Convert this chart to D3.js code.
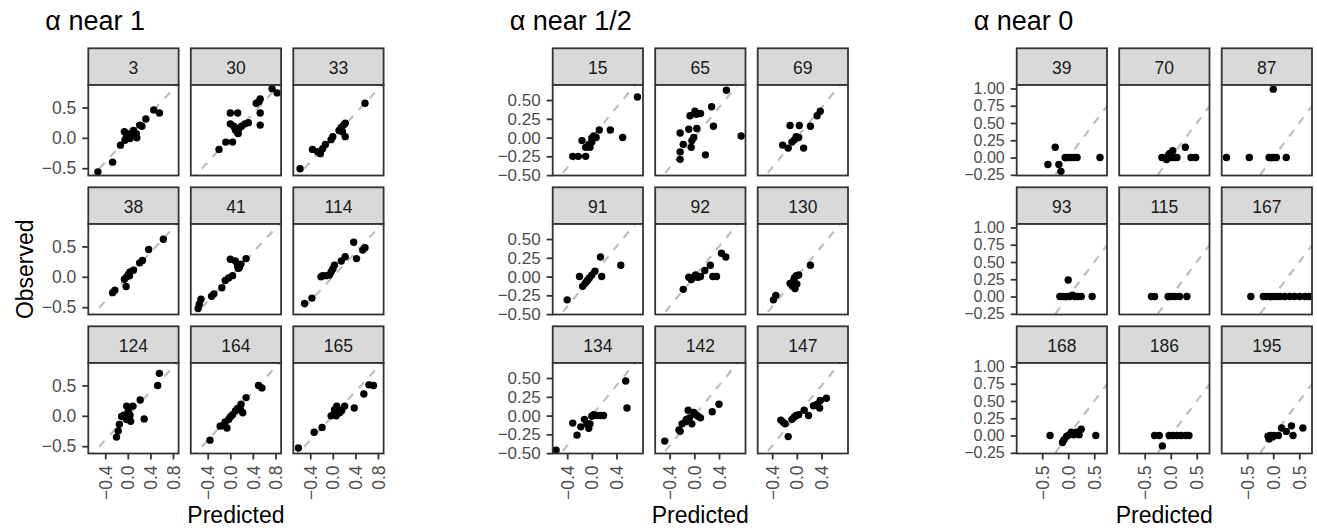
<!DOCTYPE html>
<html>
<head>
<meta charset="utf-8">
<script src="https://cdn.jsdelivr.net/npm/d3@7"></script>
<style>
  body { margin: 0; background: #fff; }
  text { font-family: "Liberation Sans", Arial, sans-serif; }
</style>
</head>
<body>
<svg id="chart" width="1317" height="532"></svg>
<script>
// ---- data: [predicted, observed] per facet ----
// alpha near 1
const p3   = [[-0.53,-0.56],[-0.27,-0.40],[-0.13,-0.12],[-0.06,0.10],[-0.03,0.0],[0.01,0.06],[0.07,0.08],[0.10,0.12],[0.16,0.0],[0.15,0.07],[0.21,0.21],[0.25,0.19],[0.32,0.31],[0.46,0.46],[0.56,0.41],[-0.05,-0.04],[0.04,-0.01]];
const p30  = [[-0.20,-0.19],[-0.08,-0.07],[0.04,-0.07],[0.0,0.41],[0.13,0.41],[0.0,0.23],[0.06,0.19],[0.09,0.13],[0.13,0.08],[0.16,0.16],[0.20,0.19],[0.26,0.23],[0.32,0.25],[0.46,0.57],[0.51,0.60],[0.53,0.64],[0.53,0.41],[0.53,0.21],[0.74,0.81],[0.83,0.74],[0.14,0.07]];
const p33  = [[-0.58,-0.51],[-0.36,-0.19],[-0.27,-0.23],[-0.22,-0.26],[-0.18,-0.18],[-0.13,-0.11],[-0.03,-0.03],[0.0,0.02],[0.11,0.12],[0.15,0.17],[0.19,0.21],[0.22,0.24],[0.22,0.02],[0.17,0.10],[0.57,0.57]];
const p38  = [[-0.27,-0.26],[-0.23,-0.22],[-0.03,-0.16],[-0.06,-0.04],[-0.02,0.0],[0.01,0.04],[0.04,0.08],[0.10,0.11],[0.21,0.23],[0.26,0.27],[0.37,0.45],[0.63,0.62],[0.03,0.02]];
const p41  = [[-0.57,-0.52],[-0.55,-0.45],[-0.52,-0.37],[-0.33,-0.32],[-0.29,-0.28],[-0.15,-0.18],[-0.09,-0.06],[-0.03,-0.02],[0.04,0.02],[0.0,0.29],[0.09,0.26],[0.13,0.18],[0.16,0.15],[0.19,0.21],[0.28,0.30],[0.14,0.14]];
const p114 = [[-0.50,-0.44],[-0.37,-0.35],[-0.21,0.0],[-0.18,0.02],[-0.12,0.02],[-0.06,0.03],[-0.03,0.08],[0.0,0.13],[0.03,0.19],[0.15,0.26],[0.22,0.33],[0.42,0.30],[0.37,0.57],[0.53,0.44],[0.57,0.48]];
const p124 = [[-0.20,-0.35],[-0.17,-0.25],[-0.15,-0.14],[-0.11,-0.01],[-0.07,0.01],[-0.02,0.16],[0.01,0.08],[0.04,0.01],[0.05,-0.09],[0.09,0.16],[0.22,0.26],[0.29,-0.05],[0.53,0.50],[0.56,0.70],[0.01,-0.03],[-0.02,-0.06]];
const p164 = [[-0.36,-0.40],[-0.18,-0.17],[-0.13,-0.16],[-0.06,-0.20],[-0.09,-0.10],[-0.03,-0.06],[0.0,-0.02],[0.04,0.02],[0.09,0.08],[0.13,0.12],[0.19,0.19],[0.22,0.05],[0.28,0.30],[0.50,0.50],[0.56,0.46],[0.18,0.10]];
const p165 = [[-0.61,-0.53],[-0.33,-0.27],[-0.19,-0.19],[-0.03,0.0],[0.01,0.02],[0.03,0.10],[0.07,0.16],[0.12,0.05],[0.16,0.09],[0.21,0.16],[0.38,0.13],[0.55,0.36],[0.64,0.51],[0.72,0.50],[0.06,0.0]];
// alpha near 1/2
const p15  = [[-0.31,-0.25],[-0.22,-0.25],[-0.10,-0.25],[-0.16,-0.04],[-0.10,-0.13],[-0.03,-0.13],[-0.05,-0.09],[0.0,-0.01],[0.03,0.02],[0.07,0.0],[0.12,0.10],[0.30,0.10],[0.50,0.0],[0.74,0.54],[0.0,-0.06]];
const p65  = [[-0.23,-0.29],[-0.23,-0.19],[-0.23,0.06],[-0.18,-0.09],[-0.09,0.11],[-0.05,-0.13],[-0.07,0.29],[0.01,0.35],[0.03,0.31],[0.10,0.32],[0.04,0.12],[-0.01,0.0],[-0.04,-0.04],[0.18,-0.23],[0.28,0.41],[0.31,0.15],[0.52,0.63],[0.76,0.02]];
const p69  = [[-0.23,-0.10],[-0.14,-0.14],[-0.11,0.16],[-0.08,-0.06],[-0.04,-0.03],[-0.01,0.01],[0.03,0.0],[0.04,0.16],[0.11,-0.14],[0.22,0.15],[0.33,0.29],[0.38,0.35]];
const p91  = [[-0.40,-0.31],[-0.20,0.0],[-0.15,-0.13],[-0.11,-0.09],[-0.07,-0.05],[-0.04,-0.02],[0.0,0.02],[0.05,0.07],[0.14,0.26],[0.16,0.0],[0.47,0.15],[-0.08,-0.06]];
const p92  = [[-0.18,-0.17],[-0.09,-0.01],[-0.05,-0.04],[-0.01,-0.01],[0.06,-0.01],[0.10,0.0],[0.17,0.08],[0.26,0.15],[0.30,0.0],[0.36,0.0],[0.44,0.31],[0.51,0.26],[0.02,0.02]];
const p130 = [[-0.38,-0.31],[-0.34,-0.25],[-0.11,-0.09],[-0.07,-0.13],[-0.03,-0.16],[0.0,-0.10],[-0.04,-0.02],[-0.01,0.01],[0.03,0.02],[0.22,0.15],[-0.05,-0.05]];
const p134 = [[-0.58,-0.46],[-0.31,-0.10],[-0.24,-0.26],[-0.18,-0.15],[-0.12,-0.05],[-0.08,-0.11],[-0.05,-0.17],[-0.03,-0.11],[0.0,-0.01],[0.03,0.01],[0.08,0.0],[0.14,0.0],[0.19,0.0],[0.55,0.46],[0.57,0.10]];
const p142 = [[-0.48,-0.34],[-0.25,-0.19],[-0.23,-0.21],[-0.20,-0.11],[-0.14,-0.08],[-0.10,0.07],[-0.08,-0.03],[-0.04,-0.11],[-0.01,0.04],[0.02,0.01],[0.06,-0.01],[0.10,-0.03],[0.29,0.05],[0.40,0.15],[-0.13,-0.05]];
const p147 = [[-0.26,-0.06],[-0.22,-0.09],[-0.19,-0.11],[-0.14,-0.28],[-0.08,-0.05],[-0.04,-0.02],[-0.01,0.0],[0.03,0.01],[0.12,0.07],[0.19,0.0],[0.27,0.13],[0.33,0.15],[0.38,0.20],[0.37,0.10],[0.48,0.23]];
// alpha near 0
const p39  = [[-0.39,-0.10],[-0.25,0.15],[-0.18,-0.10],[-0.14,-0.20],[-0.06,0.0],[0.0,0.0],[0.06,0.0],[0.11,0.0],[0.17,0.0],[0.61,0.0]];
const p70  = [[-0.17,0.0],[-0.08,-0.03],[-0.05,0.03],[-0.02,0.06],[0.01,0.0],[0.04,0.10],[0.08,0.0],[0.12,0.0],[0.28,0.15],[0.39,0.0],[0.48,0.0]];
const p87  = [[-0.90,0.0],[-0.46,0.0],[-0.08,0.0],[-0.03,0.0],[0.01,0.0],[0.06,0.0],[0.0,0.99],[0.25,0.0]];
const p93  = [[0.0,0.24],[-0.16,0.0],[-0.10,0.0],[-0.03,0.0],[0.03,0.0],[0.08,0.02],[0.13,0.0],[0.19,0.0],[0.25,0.0],[0.46,0.0]];
const p115 = [[-0.37,0.0],[-0.31,0.0],[-0.05,0.0],[0.01,0.0],[0.08,0.0],[0.17,0.0],[0.31,0.0]];
const p167 = [[-0.43,0.0],[-0.19,0.0],[-0.13,0.0],[-0.06,0.0],[0.0,0.0],[0.06,0.0],[0.13,0.0],[0.22,0.0],[0.32,0.0],[0.41,0.0],[0.51,0.0],[0.61,0.0],[0.69,0.0]];
const p168 = [[-0.35,0.0],[-0.11,-0.10],[-0.08,-0.06],[-0.03,-0.01],[0.02,0.01],[0.06,0.05],[0.11,0.01],[0.16,0.05],[0.21,0.01],[0.25,0.09],[0.53,0.0]];
const p186 = [[-0.31,0.0],[-0.22,0.0],[-0.16,-0.15],[-0.03,0.0],[0.04,0.0],[0.12,0.0],[0.20,0.0],[0.29,0.0],[0.35,0.0]];
const p195 = [[-0.10,-0.01],[-0.08,-0.05],[-0.05,0.0],[0.01,0.0],[0.10,0.0],[0.16,0.11],[0.25,0.06],[0.35,0.14],[0.38,0.0],[0.57,0.11],[-0.01,-0.02]];

const groupTitles = ["\u03b1 near 1", "\u03b1 near 1/2", "\u03b1 near 0"];
const near1Ids    = ["3","30","33","38","41","114","124","164","165"];
const nearHalfIds = ["15","65","69","91","92","130","134","142","147"];
const near0Ids    = ["39","70","87","93","115","167","168","186","195"];
const near1Pts    = [p3,p30,p33,p38,p41,p114,p124,p164,p165];
const nearHalfPts = [p15,p65,p69,p91,p92,p130,p134,p142,p147];
const near0Pts    = [p39,p70,p87,p93,p115,p167,p168,p186,p195];

// axis limits and ticks
const near1XDomain = [-0.70, 0.90],  near1YDomain = [-0.62, 0.87];
const nearHalfXDomain = [-0.635, 0.83], nearHalfYDomain = [-0.505, 0.70];
const near0XDomain = [-0.99, 0.745], near0YDomain = [-0.26, 1.05];
const near1XTicks = [-0.4, 0, 0.4, 0.8],  near1YTicks = [-0.5, 0, 0.5];
const nearHalfXTicks = [-0.4, 0, 0.4],    nearHalfYTicks = [-0.5, -0.25, 0, 0.25, 0.5];
const near0XTicks = [-0.5, 0, 0.5],       near0YTicks = [-0.25, 0, 0.25, 0.5, 0.75, 1];

const groups = [
  {title: groupTitles[0], ids: near1Ids, pts: near1Pts, xd: near1XDomain, yd: near1YDomain, xt: near1XTicks, yt: near1YTicks, xf: ".1f", yf: ".1f", yfs: "17.5px"},
  {title: groupTitles[1], ids: nearHalfIds, pts: nearHalfPts, xd: nearHalfXDomain, yd: nearHalfYDomain, xt: nearHalfXTicks, yt: nearHalfYTicks, xf: ".1f", yf: ".2f", yfs: "17px"},
  {title: groupTitles[2], ids: near0Ids, pts: near0Pts, xd: near0XDomain, yd: near0YDomain, xt: near0XTicks, yt: near0YTicks, xf: ".1f", yf: ".2f", yfs: "16px"}
];

// ---- layout ----
const groupLeft = [88.3, 552.7, 1016.7];
const panelW = 90.3, colStep = 102.5;
const stripTop = 48.3, stripH = 36.7, panelH = 90.5, rowStep = 139;
const dark = "#333333";
const tickFont = "17.5px", stripFont = "17.5px", titleFont = "23px", headFont = "27px";

const svg = d3.select("#chart");

groups.forEach(function (g, gi) {
  const x = d3.scaleLinear().domain(g.xd).range([0, panelW]);
  const y = d3.scaleLinear().domain(g.yd).range([panelH, 0]);
  const gx = groupLeft[gi];

  // title
  svg.append("text")
    .attr("x", gx - 43).attr("y", 30)
    .attr("font-size", headFont).attr("fill", "#000")
    .text(g.title);

  g.ids.forEach(function (id, i) {
    const col = i % 3, row = Math.floor(i / 3);
    const px = gx + col * colStep;
    const sy = stripTop + row * rowStep;
    const py = sy + stripH;

    // strip
    svg.append("rect")
      .attr("x", px).attr("y", sy).attr("width", panelW).attr("height", stripH)
      .attr("fill", "#D9D9D9").attr("stroke", dark).attr("stroke-width", 1.8);
    svg.append("text")
      .attr("x", px + panelW / 2).attr("y", sy + stripH / 2 + 1)
      .attr("text-anchor", "middle").attr("dominant-baseline", "central")
      .attr("font-size", stripFont).attr("fill", "#1A1A1A")
      .text(id);

    const panel = svg.append("g").attr("transform", "translate(" + px + "," + py + ")");
    const clipId = "clip-" + gi + "-" + i;
    panel.append("clipPath").attr("id", clipId)
      .append("rect").attr("width", panelW).attr("height", panelH);
    panel.append("rect").attr("width", panelW).attr("height", panelH).attr("fill", "#fff");

    // y = x reference line
    const lo = Math.min(g.xd[0], g.yd[0]), hi = Math.max(g.xd[1], g.yd[1]);
    panel.append("line")
      .attr("clip-path", "url(#" + clipId + ")")
      .attr("x1", x(lo)).attr("y1", y(lo)).attr("x2", x(hi)).attr("y2", y(hi))
      .attr("stroke", "#BEBEBE").attr("stroke-width", 2.2)
      .attr("stroke-dasharray", "8,8");

    panel.selectAll("circle")
      .data(g.pts[i])
      .enter()
      .append("circle")
      .attr("cx", function (d) { return x(d[0]); })
      .attr("cy", function (d) { return y(d[1]); })
      .attr("r", 3.7)
      .attr("fill", "#000");

    panel.append("rect").attr("width", panelW).attr("height", panelH)
      .attr("fill", "none").attr("stroke", dark).attr("stroke-width", 1.8);

    // y axis on the first column
    if (col === 0) {
      const ya = panel.append("g")
        .call(d3.axisLeft(y).tickValues(g.yt).tickSize(6).tickPadding(6).tickFormat(d3.format(g.yf)));
      ya.select(".domain").remove();
      ya.selectAll("line").attr("stroke", dark).attr("stroke-width", 1.8);
      ya.selectAll("text").attr("font-size", g.yfs).attr("fill", "#4D4D4D")
        .attr("font-family", "Liberation Sans, Arial, sans-serif");
    }
    // x axis on the last row
    if (row === 2) {
      const xa = panel.append("g").attr("transform", "translate(0," + panelH + ")")
        .call(d3.axisBottom(x).tickValues(g.xt).tickSize(6).tickPadding(6).tickFormat(d3.format(g.xf)));
      xa.select(".domain").remove();
      xa.selectAll("line").attr("stroke", dark).attr("stroke-width", 1.8);
      xa.selectAll("text")
        .attr("font-size", tickFont).attr("fill", "#4D4D4D")
        .attr("font-family", "Liberation Sans, Arial, sans-serif")
        .attr("transform", "rotate(-90)")
        .attr("x", -12).attr("y", 0).attr("dy", "0.35em")
        .attr("text-anchor", "end");
    }
  });

  // x axis title
  svg.append("text")
    .attr("x", gx + (2 * colStep + panelW) / 2).attr("y", 523)
    .attr("text-anchor", "middle").attr("font-size", titleFont).attr("fill", "#000")
    .text("Predicted");
});

// y axis title, only on the first group
const yMid = (stripTop + stripH + stripTop + 2 * rowStep + stripH + panelH) / 2;
svg.append("text")
  .attr("transform", "translate(33," + yMid + ") rotate(-90)")
  .attr("text-anchor", "middle").attr("font-size", titleFont).attr("fill", "#000")
  .text("Observed");
</script>
</body>
</html>
